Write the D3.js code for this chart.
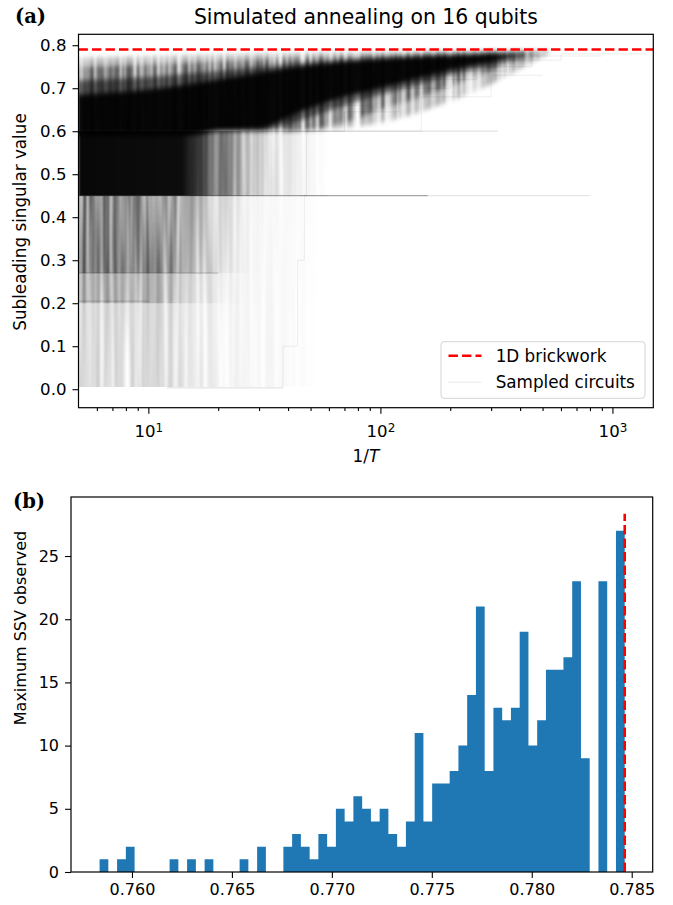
<!DOCTYPE html>
<html>
<head>
<meta charset="utf-8">
<script src="https://cdn.jsdelivr.net/npm/d3@7"></script>
<style>
  body { margin: 0; background: #fff; }
  svg { display: block; }
</style>
</head>
<body>
<svg id="fig" width="673" height="905"></svg>
<script>
// ---------- panel (a): simulated annealing traces ----------
const xLimA = [5, 1500];
const yLimA = [-0.043, 0.8254];
const xMajorA = [10, 100, 1000];
const xMinorA = [6, 7, 8, 9, 20, 30, 40, 50, 60, 70, 80, 90, 200, 300, 400, 500, 600, 700, 800, 900];
const ssvTicks = [0, 0.1, 0.2, 0.3, 0.4, 0.5, 0.6, 0.7, 0.8];
const brickworkSSV = 0.790;

// density envelopes of the sampled circuits: [1/T, low SSV, high SSV]
const envOuter = [[5, 0.59, 0.77], [10, 0.59, 0.774], [20, 0.6, 0.778], [40, 0.6, 0.781], [100, 0.62, 0.784], [200, 0.67, 0.786], [300, 0.71, 0.787], [450, 0.76, 0.787], [540, 0.783, 0.787]];
const envWide = [[5, 0.59, 0.75], [10, 0.59, 0.755], [20, 0.6, 0.762], [40, 0.6, 0.769], [70, 0.62, 0.774], [100, 0.65, 0.777], [150, 0.68, 0.78], [200, 0.705, 0.782], [300, 0.74, 0.784], [470, 0.778, 0.785]];
const envMid = [[5, 0.59, 0.718], [10, 0.59, 0.726], [15, 0.59, 0.734], [20, 0.6, 0.74], [30, 0.6, 0.75], [45, 0.625, 0.758], [70, 0.66, 0.766], [100, 0.685, 0.772], [150, 0.71, 0.776], [200, 0.73, 0.779], [300, 0.752, 0.782], [420, 0.778, 0.783]];
const envCore = [[5, 0.59, 0.685], [10, 0.59, 0.697], [15, 0.59, 0.71], [20, 0.6, 0.72], [30, 0.605, 0.736], [45, 0.645, 0.751], [70, 0.68, 0.762], [100, 0.70, 0.768], [150, 0.725, 0.773], [200, 0.742, 0.776], [300, 0.762, 0.78], [370, 0.776, 0.781]];

// horizontal bands at high temperature: [1/T, low, high] and fade stops [1/T, opacity]
const bandMid = [[5, 0.45, 0.6], [60, 0.45, 0.6]];
const fadeMidSolid = [[5, 0.97], [14, 0.95], [16, 0.7], [19, 0.35], [23, 0.12], [28, 0]];
const fadeMidStreak = [[13, 0], [16, 0.45], [20, 0.5], [25, 0.38], [32, 0.2], [45, 0.07], [60, 0]];
const bandLow = [[5, 0.005, 0.45], [55, 0.005, 0.45]];
const fadeLow = [[5, 0.22], [12, 0.2], [15, 0.14], [20, 0.08], [30, 0.05], [40, 0.03], [50, 0.012], [55, 0]];
const bandLow2 = [[5, 0.2, 0.45], [26, 0.2, 0.45]];
const fadeLow2 = [[5, 0.32], [10, 0.28], [13, 0.2], [16, 0.1], [20, 0.05], [26, 0]];
const bandLow3 = [[5, 0.27, 0.45], [28, 0.27, 0.45]];
const fadeLow3 = [[5, 0.55], [9, 0.5], [12, 0.42], [14, 0.32], [17, 0.18], [21, 0.09], [28, 0]];

// plateau levels: [SSV, from 1/T, to 1/T, opacity]
const levelLines = [[0.45, 5, 160, 0.35], [0.45, 160, 800, 0.1], [0.6, 18, 320, 0.12], [0.27, 5, 20, 0.2], [0.205, 5, 10, 0.15], [0.003, 12, 38, 0.06]];

// a few individual late traces: [1/T, SSV]
const traceA = [[40, 0.6], [70, 0.6], [70, 0.645], [120, 0.645], [120, 0.70], [200, 0.70], [200, 0.74], [350, 0.74], [350, 0.765], [600, 0.765], [600, 0.78], [1400, 0.78]];
const traceB = [[30, 0.6], [55, 0.6], [55, 0.66], [90, 0.66], [90, 0.72], [260, 0.72], [260, 0.75], [450, 0.75], [450, 0.775], [900, 0.775]];
const traceC = [[45, 0.45], [48, 0.45], [48, 0.6], [150, 0.6], [150, 0.68], [300, 0.68], [300, 0.73], [500, 0.73]];
const traceD = [[12, 0.003], [38, 0.003], [38, 0.1], [44, 0.1], [44, 0.3], [47, 0.3], [47, 0.45], [60, 0.45]];

// ---------- panel (b): histogram of maximum SSV ----------
const xLimB = [0.75695, 0.78605];
const yLimB = [0, 29.67];
const binRange = [0.75838, 0.78465];
const binCounts = [1, 0, 1, 2, 0, 0, 0, 0, 1, 0, 1, 0, 1, 0, 0, 0, 1, 0, 2, 0,
  0, 2, 3, 2, 1, 3, 2, 5, 4, 6, 5, 4, 5, 3, 2, 4, 11, 4, 7, 7,
  8, 10, 14, 21, 8, 13, 12, 13, 19, 10, 12, 16, 16, 17, 23, 9, 0, 23, 0, 27];
const xTicksB = [0.760, 0.765, 0.770, 0.775, 0.780, 0.785];
const yTicksB = [0, 5, 10, 15, 20, 25];
const maxSSV = 0.78465;
const redLineTop = 28.35;

const FONT = "DejaVu Sans, sans-serif";
const svg = d3.select("#fig");
const defs = svg.append("defs");

// ================= panel (a) =================
const A = { left: 78.5, right: 653.3, top: 34.3, bottom: 407.7 };
const xA = d3.scaleLog().domain(xLimA).range([A.left, A.right]);
const yA = d3.scaleLinear().domain(yLimA).range([A.bottom, A.top]);

defs.append("clipPath").attr("id", "clipA").append("rect")
  .attr("x", A.left).attr("y", A.top)
  .attr("width", A.right - A.left).attr("height", A.bottom - A.top);

function blur(id, sd) {
  defs.append("filter").attr("id", id)
    .attr("x", "-5%").attr("y", "-5%").attr("width", "110%").attr("height", "110%")
    .append("feGaussianBlur").attr("stdDeviation", sd);
}
blur("softTop", "1 2.4");
blur("softLow", "0.8 0.6");

// vertical streak texture for the sparse, high-temperature traces
const streak = defs.append("filter").attr("id", "streaks")
  .attr("x", 0).attr("y", 0).attr("width", 1).attr("height", 1);
streak.append("feTurbulence").attr("type", "fractalNoise")
  .attr("baseFrequency", "0.3 0.004").attr("numOctaves", 2).attr("seed", 7).attr("result", "noise");
streak.append("feColorMatrix").attr("in", "noise").attr("type", "matrix")
  .attr("values", "0 0 0 0 0  0 0 0 0 0  0 0 0 0 0  2.4 0 0 0 -0.55").attr("result", "mask");
streak.append("feComposite").attr("in", "SourceGraphic").attr("in2", "mask").attr("operator", "in");

function fade(id, stops) {
  const x0 = xA(xLimA[0]), x1 = xA(xLimA[1]);
  const g = defs.append("linearGradient").attr("id", id)
    .attr("gradientUnits", "userSpaceOnUse")
    .attr("x1", x0).attr("x2", x1).attr("y1", 0).attr("y2", 0);
  stops.forEach(([t, o]) => {
    g.append("stop").attr("offset", (xA(t) - x0) / (x1 - x0))
      .attr("stop-color", "#000").attr("stop-opacity", o);
  });
  return "url(#" + id + ")";
}

const area = d3.area()
  .x(d => xA(d[0])).y0(d => yA(d[1])).y1(d => yA(d[2]))
  .curve(d3.curveMonotoneX);
const lineA = d3.line().x(d => xA(d[0])).y(d => yA(d[1]));

const plotA = svg.append("g").attr("clip-path", "url(#clipA)");

// low bands: streaky, only slightly softened
const lowG = plotA.append("g").attr("filter", "url(#softLow)").append("g").attr("filter", "url(#streaks)");
lowG.append("path").attr("d", area(bandLow)).attr("fill", fade("gLow", fadeLow));
lowG.append("path").attr("d", area(bandLow2)).attr("fill", fade("gLow2", fadeLow2));
lowG.append("path").attr("d", area(bandLow3)).attr("fill", fade("gLow3", fadeLow3));
lowG.append("path").attr("d", area(bandMid)).attr("fill", fade("gMidS", fadeMidStreak));

plotA.append("g").attr("filter", "url(#softLow)")
  .append("path").attr("d", area(bandMid)).attr("fill", fade("gMid", fadeMidSolid));

// upper cluster: outer layers streaky, core solid
const upperG = plotA.append("g").attr("filter", "url(#softTop)");
const upperStreak = upperG.append("g").attr("filter", "url(#streaks)");
[[envOuter, 0.3], [envWide, 0.5]].forEach(([env, op]) => {
  upperStreak.append("path").attr("d", area(env)).attr("fill", "#000").attr("fill-opacity", op);
});
[[envMid, 0.55], [envCore, 0.92]].forEach(([env, op]) => {
  upperG.append("path").attr("d", area(env)).attr("fill", "#000").attr("fill-opacity", op);
});

levelLines.forEach(([v, a, b, op]) => {
  plotA.append("path").attr("d", lineA([[a, v], [b, v]]))
    .attr("stroke", "#000").attr("stroke-opacity", op).attr("stroke-width", 1.2).attr("fill", "none");
});

[traceA, traceB, traceC, traceD].forEach(tr => {
  plotA.append("path").attr("d", lineA(tr))
    .attr("fill", "none").attr("stroke", "#000").attr("stroke-opacity", 0.07).attr("stroke-width", 1);
});

// 1D brickwork reference
plotA.append("path").attr("d", lineA([[xLimA[0], brickworkSSV], [xLimA[1], brickworkSSV]]))
  .attr("stroke", "#ff0000").attr("stroke-width", 2.6).attr("stroke-dasharray", "9.4 4.1").attr("fill", "none");

// axes
function styleAxis(g, size) {
  g.attr("font-family", FONT).attr("font-size", size);
  g.select(".domain").remove();
  g.selectAll(".tick line").attr("stroke", "#000").attr("stroke-width", 1.1);
  g.selectAll(".tick text").attr("fill", "#000");
}

svg.append("g").attr("transform", `translate(${A.left},0)`)
  .call(d3.axisLeft(yA).tickValues(ssvTicks).tickFormat(d3.format(".1f")).tickSize(6).tickPadding(6))
  .call(g => styleAxis(g, 16.6));

const xAxisA = svg.append("g").attr("transform", `translate(0,${A.bottom})`)
  .call(d3.axisBottom(xA).tickValues(xMajorA).tickFormat("").tickSize(6))
  .call(g => styleAxis(g, 16.6));
xAxisA.selectAll(".tick").append("text")
  .attr("y", 29).attr("text-anchor", "middle").attr("fill", "#000")
  .each(function (d) {
    const t = d3.select(this);
    t.append("tspan").text("10");
    t.append("tspan").attr("dy", "-0.42em").attr("font-size", "0.72em").text(Math.round(Math.log10(d)));
  });
svg.append("g").attr("transform", `translate(0,${A.bottom})`)
  .call(d3.axisBottom(xA).tickValues(xMinorA).tickFormat("").tickSize(3.4))
  .call(g => styleAxis(g, 16.6));

svg.append("rect").attr("x", A.left).attr("y", A.top)
  .attr("width", A.right - A.left).attr("height", A.bottom - A.top)
  .attr("fill", "none").attr("stroke", "#000").attr("stroke-width", 1.2);

// texts
svg.append("text").attr("x", (A.left + A.right) / 2).attr("y", 24)
  .attr("text-anchor", "middle").attr("font-family", FONT).attr("font-size", 20.4)
  .text("Simulated annealing on 16 qubits");
svg.append("text").attr("transform", `translate(20,222) rotate(-90)`)
  .attr("text-anchor", "middle").attr("dy", "0.36em")
  .attr("font-family", FONT).attr("font-size", 16.8)
  .text("Subleading singular value");
const xl = svg.append("text").attr("x", (A.left + A.right) / 2).attr("y", 462)
  .attr("text-anchor", "middle").attr("font-family", FONT).attr("font-size", 16.8);
xl.append("tspan").text("1/");
xl.append("tspan").attr("font-style", "italic").text("T");
svg.append("text").attr("x", 15).attr("y", 23)
  .attr("font-family", "DejaVu Serif, serif").attr("font-weight", "bold").attr("font-size", 19.5)
  .text("(a)");

// legend
const leg = svg.append("g");
leg.append("rect").attr("x", 441).attr("y", 341.7).attr("width", 204).attr("height", 56.6)
  .attr("rx", 3).attr("fill", "#fff").attr("fill-opacity", 0.8)
  .attr("stroke", "#d4d4d4").attr("stroke-width", 1);
leg.append("line").attr("x1", 448.5).attr("x2", 481.5).attr("y1", 355.7).attr("y2", 355.7)
  .attr("stroke", "#ff0000").attr("stroke-width", 2.6).attr("stroke-dasharray", "9.4 4.1");
leg.append("line").attr("x1", 448.5).attr("x2", 481.5).attr("y1", 382.3).attr("y2", 382.3)
  .attr("stroke", "#000").attr("stroke-opacity", 0.06).attr("stroke-width", 1.5);
leg.append("text").attr("x", 495.7).attr("y", 355.7).attr("dy", "0.36em")
  .attr("font-family", FONT).attr("font-size", 16.8).text("1D brickwork");
leg.append("text").attr("x", 495.7).attr("y", 382.3).attr("dy", "0.36em")
  .attr("font-family", FONT).attr("font-size", 16.8).text("Sampled circuits");

// ================= panel (b) =================
const B = { left: 71, right: 652.7, top: 497, bottom: 872 };
const xB = d3.scaleLinear().domain(xLimB).range([B.left, B.right]);
const yB = d3.scaleLinear().domain(yLimB).range([B.bottom, B.top]);

const binW = (binRange[1] - binRange[0]) / binCounts.length;
const histPts = binCounts.flatMap((c, i) => [
  [binRange[0] + i * binW, c], [binRange[0] + (i + 1) * binW, c]
]);

svg.append("path")
  .attr("d", d3.area().x(d => xB(d[0])).y0(yB(0)).y1(d => yB(d[1]))(histPts))
  .attr("fill", "#1f77b4");

svg.append("line").attr("x1", xB(maxSSV)).attr("x2", xB(maxSSV))
  .attr("y1", yB(0)).attr("y2", yB(redLineTop))
  .attr("stroke", "#ff0000").attr("stroke-width", 2.6).attr("stroke-dasharray", "9.4 4.1");

svg.append("g").attr("transform", `translate(${B.left},0)`)
  .call(d3.axisLeft(yB).tickValues(yTicksB).tickFormat(d3.format("d")).tickSize(6).tickPadding(6))
  .call(g => styleAxis(g, 16));
svg.append("g").attr("transform", `translate(0,${B.bottom})`)
  .call(d3.axisBottom(xB).tickValues(xTicksB).tickFormat(d3.format(".3f")).tickSize(6).tickPadding(6))
  .call(g => styleAxis(g, 16));

svg.append("rect").attr("x", B.left).attr("y", B.top)
  .attr("width", B.right - B.left).attr("height", B.bottom - B.top)
  .attr("fill", "none").attr("stroke", "#000").attr("stroke-width", 1.2);

svg.append("text").attr("transform", `translate(20,628) rotate(-90)`)
  .attr("text-anchor", "middle").attr("dy", "0.36em")
  .attr("font-family", FONT).attr("font-size", 16)
  .text("Maximum SSV observed");
svg.append("text").attr("x", 13).attr("y", 508)
  .attr("font-family", "DejaVu Serif, serif").attr("font-weight", "bold").attr("font-size", 19.5)
  .text("(b)");
</script>
</body>
</html>
